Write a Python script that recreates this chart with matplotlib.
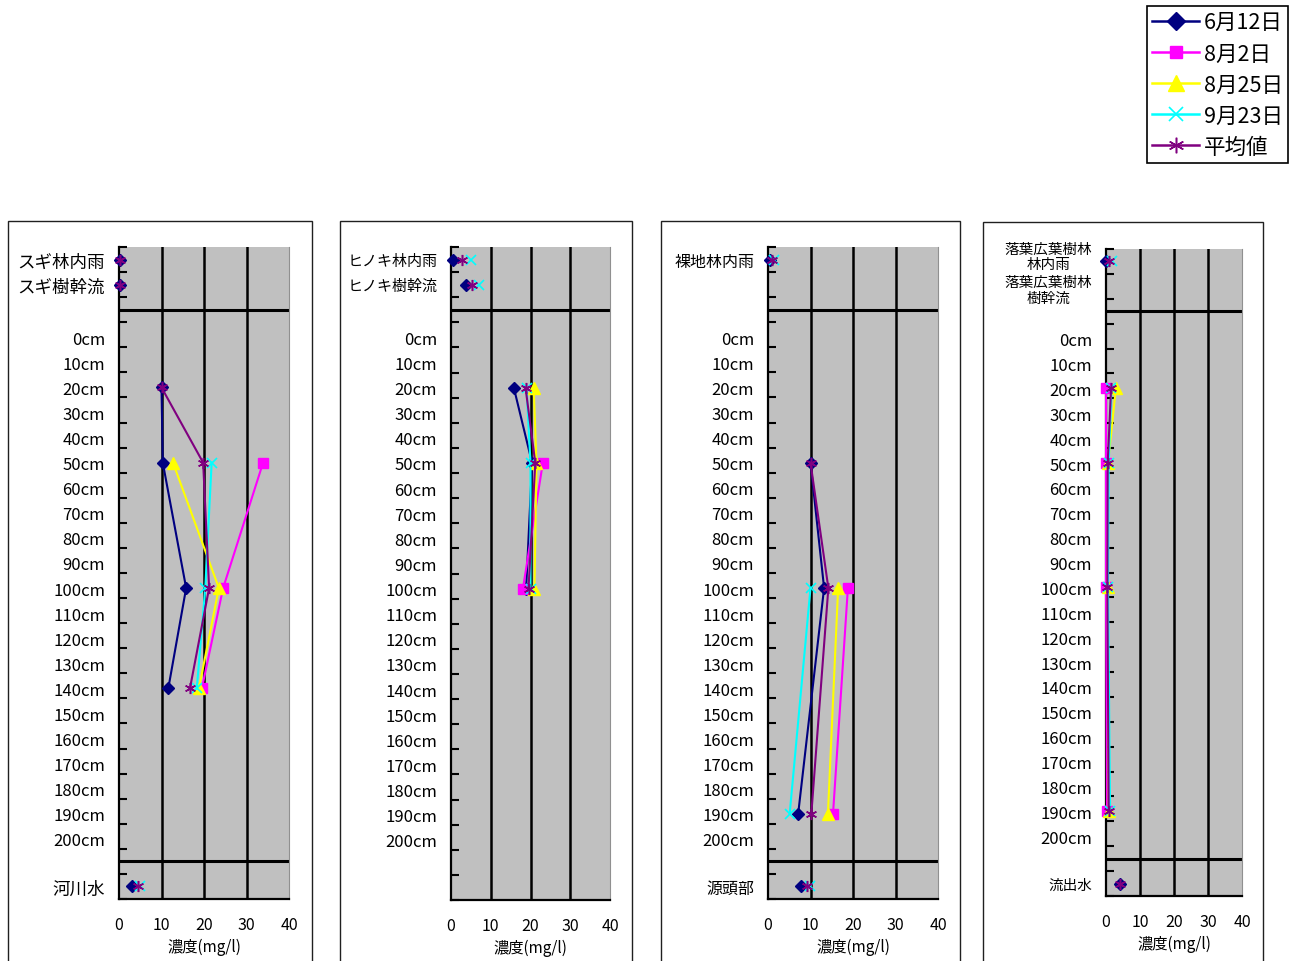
import numpy as np
import matplotlib
matplotlib.use("Agg")
import matplotlib.pyplot as plt
from matplotlib.lines import Line2D
from matplotlib.patches import Rectangle

plt.rcParams['font.family'] = ['Noto Sans CJK JP', 'DejaVu Sans']

nan = np.nan
W, H = 1289, 962

SERIES = ["6月12日", "8月2日", "8月25日", "9月23日", "平均値"]
DEPTHS_CM = list(range(0, 201, 10))
XTICKS = [0, 10, 20, 30, 40]
XLABEL = "濃度(mg/l)"

# --- スギ ---
SUGI_TOP = ["スギ林内雨", "スギ樹幹流"]
SUGI_BOTTOM = "河川水"
SUGI_DEPTH = [20, 50, 100, 140]
SUGI_VALUES = {
    "6月12日": [10.0, 10.3, 15.8, 11.6],
    "8月2日": [nan, 33.9, 24.5, 19.5],
    "8月25日": [nan, 12.7, 23.5, 18.8],
    "9月23日": [nan, 21.8, 20.3, 18.3],
    "平均値": [10.0, 19.8, 21.2, 16.7],
}
SUGI_TOP_VALUES = {"6月12日": [0.2, 0.2], "平均値": [0.2, 0.2]}
SUGI_BOTTOM_VALUES = {"6月12日": 3.0, "9月23日": 4.9, "平均値": 4.4}

# --- ヒノキ ---
HINOKI_TOP = ["ヒノキ林内雨", "ヒノキ樹幹流"]
HINOKI_DEPTH = [20, 50, 100]
HINOKI_VALUES = {
    "6月12日": [15.8, 20.4, 18.9],
    "8月2日": [nan, 23.1, 18.1],
    "8月25日": [20.8, 21.5, 21.0],
    "9月23日": [19.0, 20.0, 20.0],
    "平均値": [18.75, 21.2, 19.5],
}
HINOKI_TOP_VALUES = {"6月12日": [0.4, 3.75], "9月23日": [5.0, 7.0], "平均値": [2.7, 5.4]}

# --- 裸地 ---
RACHI_TOP = ["裸地林内雨"]
RACHI_BOTTOM = "源頭部"
RACHI_DEPTH = [50, 100, 190]
RACHI_VALUES = {
    "6月12日": [10.0, 13.2, 7.1],
    "8月2日": [nan, 18.8, 15.3],
    "8月25日": [nan, 16.5, 14.1],
    "9月23日": [nan, 10.0, 5.1],
    "平均値": [10.0, 14.2, 10.2],
}
RACHI_TOP_VALUES = {"6月12日": [0.4], "9月23日": [1.4], "平均値": [1.0]}
RACHI_BOTTOM_VALUES = {"6月12日": 7.8, "9月23日": 9.8, "平均値": 9.2}

# --- 落葉広葉樹林 ---
RAKUYO_TOP = ["落葉広葉樹林\n林内雨", "落葉広葉樹林\n樹幹流"]
RAKUYO_BOTTOM = "流出水"
RAKUYO_DEPTH = [20, 50, 100, 190]
RAKUYO_VALUES = {
    "6月12日": [nan, nan, nan, nan],
    "8月2日": [0.0, 0.0, 0.0, 0.3],
    "8月25日": [2.9, 0.6, 0.5, 0.8],
    "9月23日": [1.6, 0.8, 0.6, 1.2],
    "平均値": [1.5, 0.5, 0.4, 0.8],
}
RAKUYO_TOP_VALUES = {"6月12日": [0.0, nan], "9月23日": [1.8, nan], "平均値": [0.9, nan]}
RAKUYO_BOTTOM_VALUES = {"6月12日": 4.1, "平均値": 4.1}

TOP_POS = [-31, -21]
BOTTOM_POS = 219

STYLE = {
    "6月12日": dict(color="#000080", marker="D", ms=6.5, mfc="#000080", mec="#000080", mew=1),
    "8月2日": dict(color="#FF00FF", marker="s", ms=6.5, mfc="#FF00FF", mec="#FF00FF", mew=1),
    "8月25日": dict(color="#FFFF00", marker="^", ms=8, mfc="#FFFF00", mec="#FFFF00", mew=1),
    "9月23日": dict(color="#00FFFF", marker="x", ms=7, mfc="#00FFFF", mec="#00FFFF", mew=1.2),
    "平均値": dict(color="#800080", marker=(6, 2, 0), ms=8, mfc="#800080", mec="#800080", mew=1.1),
}

fig = plt.figure(figsize=(W / 100, H / 100), dpi=100)


def axes_px(x0, x1, y0, y1):
    return fig.add_axes([x0 / W, 1 - y1 / H, (x1 - x0) / W, (y1 - y0) / H])


def border_px(x0, x1, top):
    fig.add_artist(Rectangle((x0 / W, -0.05), (x1 - x0) / W, 1 - top / H + 0.05,
                             transform=fig.transFigure, fill=False,
                             edgecolor="#202020", lw=1))


def draw_panel(ax, top, depth, values, top_values, bottom=None, bottom_values=None,
               jp_size=12, top_label_pos=None):
    ax.set_facecolor("#C0C0C0")
    ax.set_xlim(0, 40)
    ax.set_ylim(224, -36)
    ax.set_xticks(XTICKS)
    ax.tick_params(axis="x", length=0, pad=12, labelsize=11.5)
    ax.set_xlabel(XLABEL, fontsize=11, labelpad=4)
    for v in (10, 20, 30):
        ax.axvline(v, color="black", lw=1.8, zorder=1)
    ax.axhline(-11, color="black", lw=2.2, zorder=1)
    if bottom:
        ax.axhline(209, color="black", lw=2.2, zorder=1)
    ax.spines["top"].set_visible(False)
    ax.spines["right"].set_color("#909090")
    ax.spines["left"].set_linewidth(1.6)
    ax.spines["bottom"].set_linewidth(1.6)

    tpos = top_label_pos if top_label_pos else TOP_POS[:len(top)]
    pos = tpos + DEPTHS_CM + ([BOTTOM_POS] if bottom else [])
    labels = top + [f"{d}cm" for d in DEPTHS_CM] + ([bottom] if bottom else [])
    ax.set_yticks(pos, labels)
    ax.tick_params(axis="y", which="major", length=0, pad=10, labelsize=12)
    ax.set_yticks(np.arange(-36, 225, 10), minor=True)
    ax.tick_params(axis="y", which="minor", direction="in", length=6, width=1.5,
                   color="black")
    for lab in ax.get_yticklabels():
        if not lab.get_text().endswith("cm"):
            lab.set_fontsize(jp_size)
            if "\n" in lab.get_text():
                lab.set_multialignment("center")
                lab.set_linespacing(1.12)

    for i, name in enumerate(SERIES):
        st = STYLE[name]
        ax.plot(values[name], depth, lw=1.5, zorder=3 + i, clip_on=False, **st)
        if name in top_values:
            ax.plot(top_values[name], TOP_POS[:len(top)], ls="none", zorder=3 + i,
                    clip_on=False, **st)
        if bottom_values and name in bottom_values:
            ax.plot([bottom_values[name]], [BOTTOM_POS], ls="none", zorder=3 + i,
                    clip_on=False, **st)


border_px(8, 312, 222)
border_px(340, 632, 222)
border_px(661, 960, 222)
border_px(983, 1263, 223)

ax1 = axes_px(119, 289, 248, 900)
draw_panel(ax1, SUGI_TOP, SUGI_DEPTH, SUGI_VALUES, SUGI_TOP_VALUES,
           SUGI_BOTTOM, SUGI_BOTTOM_VALUES, jp_size=12.6)

ax2 = axes_px(451, 610, 248, 901)
draw_panel(ax2, HINOKI_TOP, HINOKI_DEPTH, HINOKI_VALUES, HINOKI_TOP_VALUES, jp_size=10.8)

ax3 = axes_px(768, 938, 248, 900)
draw_panel(ax3, RACHI_TOP, RACHI_DEPTH, RACHI_VALUES, RACHI_TOP_VALUES,
           RACHI_BOTTOM, RACHI_BOTTOM_VALUES, jp_size=11.5)

ax4 = axes_px(1106, 1242, 250, 897)
draw_panel(ax4, RAKUYO_TOP, RAKUYO_DEPTH, RAKUYO_VALUES, RAKUYO_TOP_VALUES,
           RAKUYO_BOTTOM, RAKUYO_BOTTOM_VALUES, jp_size=10.5, top_label_pos=[-34, -20.5])

handles = []
for name in SERIES:
    st = dict(STYLE[name])
    st["ms"] = st["ms"] * 1.4
    handles.append(Line2D([], [], lw=1.8, **st))
leg = fig.legend(handles, SERIES, loc="upper right", bbox_to_anchor=(1288 / W, 1 - 7 / H),
                 fancybox=False, edgecolor="black", framealpha=1, fontsize=15.5,
                 handlelength=2.2, handletextpad=0.2, labelspacing=0.42,
                 borderpad=0.25, borderaxespad=0)
leg.get_frame().set_linewidth(1.2)

fig.savefig("out.png", dpi=100, facecolor="white")
